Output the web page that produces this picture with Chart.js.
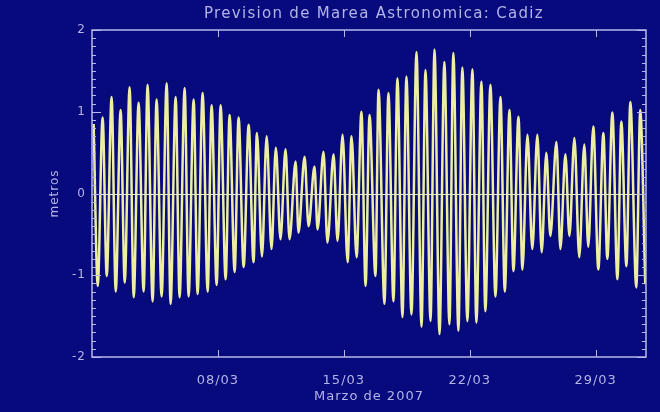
<!DOCTYPE html>
<html>
<head>
<meta charset="utf-8">
<script src="https://cdn.jsdelivr.net/npm/chart.js@4.4.1/dist/chart.umd.min.js"></script>
<style>
html,body{margin:0;padding:0;background:#070a7d;}
#wrap{width:660px;height:412px;}
</style>
</head>
<body>
<div id="wrap"><canvas id="c" width="660" height="412"></canvas></div>
<script>
// ---- Text ----
const titleText = "Prevision de Marea Astronomica: Cadiz";
const yTitle = "metros";
const xTitle = "Marzo de 2007";

// ---- Axis ticks (days since 1 March 00:00) ----
const xTickDays = [7, 14, 21, 28];
const xTickLabels = ["08/03", "15/03", "22/03", "29/03"];
const yTickValues = [-2, -1, 0, 1, 2];

// ---- High waters: time (days since 1 March 00:00) and level (m) ----
const highTimes = [0.09,0.59,1.09,1.59,2.09,2.59,3.09,3.59,4.15,4.65,
                   5.15,5.65,6.15,6.65,7.15,7.65,8.15,8.71,9.17,9.71,
                   10.22,10.76,11.32,11.82,12.37,12.87,13.43,13.93,14.43,14.98,
                   15.43,15.93,16.48,16.98,17.48,18.04,18.54,19.04,19.59,20.09,
                   20.59,21.15,21.65,22.15,22.71,23.21,23.71,24.21,24.76,25.26,
                   25.82,26.32,26.82,27.37,27.87,28.43,28.93,29.43,29.93,30.48];
const highs = [0.85,0.93,1.18,1.02,1.30,1.11,1.33,1.15,1.35,1.18,
               1.29,1.15,1.23,1.08,1.08,0.96,0.93,0.84,0.74,0.70,
               0.56,0.54,0.39,0.45,0.33,0.51,0.48,0.72,0.70,1.00,
               0.96,1.27,1.23,1.41,1.43,1.73,1.51,1.76,1.61,1.72,
               1.54,1.52,1.37,1.33,1.18,1.02,0.94,0.72,0.72,0.50,
               0.63,0.48,0.68,0.60,0.82,0.74,0.99,0.88,1.12,1.02];

// ---- Low waters ----
const lowTimes = [0.32,0.82,1.32,1.82,2.32,2.87,3.37,3.87,4.37,4.87,
                  5.37,5.87,6.43,6.93,7.43,7.93,8.43,8.98,9.45,9.98,
                  10.48,10.98,11.48,12.04,12.54,13.09,13.65,14.21,14.71,15.21,
                  15.76,16.26,16.76,17.26,17.76,18.32,18.82,19.32,19.87,20.37,
                  20.87,21.37,21.87,22.43,22.95,23.43,23.93,24.48,25.00,25.48,
                  26.04,26.54,27.09,27.59,28.15,28.65,29.21,29.71,30.26,30.76];
const lows = [-1.13,-1.01,-1.20,-1.09,-1.27,-1.20,-1.32,-1.26,-1.35,-1.27,
              -1.26,-1.23,-1.20,-1.12,-1.05,-0.96,-0.90,-0.84,-0.77,-0.68,
              -0.56,-0.56,-0.48,-0.40,-0.44,-0.60,-0.58,-0.84,-0.78,-1.13,
              -1.01,-1.35,-1.32,-1.51,-1.48,-1.63,-1.56,-1.72,-1.60,-1.68,
              -1.56,-1.58,-1.44,-1.26,-1.20,-0.95,-0.93,-0.68,-0.72,-0.52,
              -0.68,-0.52,-0.78,-0.65,-0.93,-0.80,-1.05,-0.89,-1.15,-1.11];

const points = highTimes.map((t, i) => ({x: t, y: highs[i]}))
  .concat(lowTimes.map((t, i) => ({x: t, y: lows[i]})))
  .sort((a, b) => a.x - b.x);

const BG = '#070a7d';
const TXT = '#b4b4e6';
const FRAME = '#b8b8ec';

const bgPlugin = {
  id: 'bg',
  beforeDraw(chart) {
    const ctx = chart.ctx;
    ctx.fillStyle = BG;
    ctx.fillRect(0, 0, chart.width, chart.height);
    ctx.letterSpacing = '1px';
  }
};

const framePlugin = {
  id: 'frame',
  afterDatasetsDraw(chart) {
    const {ctx, chartArea: a, scales: {x, y}} = chart;
    ctx.save();
    // zero line
    ctx.strokeStyle = '#e8e8cc';
    ctx.lineWidth = 1;
    const y0 = Math.round(y.getPixelForValue(0)) + 0.5;
    ctx.beginPath(); ctx.moveTo(a.left, y0); ctx.lineTo(a.right, y0); ctx.stroke();
    // frame
    ctx.strokeStyle = FRAME;
    ctx.lineWidth = 1.5;
    ctx.strokeRect(a.left, a.top, a.right - a.left, a.bottom - a.top);
    // y ticks (major 1 m, minor 0.1 m), inward on both sides
    ctx.lineWidth = 1;
    ctx.beginPath();
    for (let k = -20; k <= 20; k++) {
      const py = Math.round(y.getPixelForValue(k / 10)) + 0.5;
      const len = (k % 10 === 0) ? 9 : 4;
      ctx.moveTo(a.left, py); ctx.lineTo(a.left + len, py);
      ctx.moveTo(a.right, py); ctx.lineTo(a.right - len, py);
    }
    // x ticks inward top and bottom
    xTickDays.forEach(d => {
      const px = Math.round(x.getPixelForValue(d)) + 0.5;
      ctx.moveTo(px, a.top); ctx.lineTo(px, a.top + 7);
      ctx.moveTo(px, a.bottom); ctx.lineTo(px, a.bottom - 7);
    });
    ctx.stroke();
    ctx.restore();
  },
  afterDraw(chart) {
    const {ctx, chartArea: a} = chart;
    ctx.save();
    ctx.font = '15px "DejaVu Sans"';
    ctx.letterSpacing = '1.3px';
    ctx.fillStyle = TXT;
    ctx.textAlign = 'center';
    ctx.textBaseline = 'middle';
    ctx.fillText(titleText, (a.left + a.right) / 2 + 5, 14);
    ctx.restore();
  }
};

new Chart(document.getElementById('c'), {
  type: 'line',
  data: {
    datasets: [{
      data: points,
      borderColor: '#eeeea2',
      borderWidth: 2.5,
      pointRadius: 0,
      fill: false,
      cubicInterpolationMode: 'monotone'
    }]
  },
  options: {
    responsive: false,
    animation: false,
    devicePixelRatio: 1,
    layout: {padding: {left: 0, right: 14, top: 30, bottom: 0}},
    plugins: {legend: {display: false}, tooltip: {enabled: false}, title: {display: false}},
    scales: {
      x: {
        type: 'linear',
        min: 0, max: 30.8,
        afterBuildTicks: s => { s.ticks = xTickDays.map(v => ({value: v})); },
        afterFit: s => { s.height = 55; },
        grid: {display: false, drawTicks: false},
        border: {display: false},
        ticks: {
          autoSkip: false, maxRotation: 0,
          color: TXT, padding: 16,
          font: {family: 'DejaVu Sans', size: 13},
          callback: (v, i) => xTickLabels[i]
        },
        title: {
          display: true, text: xTitle, color: TXT,
          font: {family: 'DejaVu Sans', size: 13},
          padding: {top: 0, bottom: 8}
        }
      },
      y: {
        min: -2, max: 2,
        afterBuildTicks: s => { s.ticks = yTickValues.map(v => ({value: v})); },
        afterFit: s => { s.width = 92; },
        grid: {display: false, drawTicks: false},
        border: {display: false},
        ticks: {
          color: TXT, padding: 6,
          font: {family: 'DejaVu Sans', size: 12},
          callback: v => String(v)
        },
        title: {
          display: true, text: yTitle, color: TXT,
          font: {family: 'DejaVu Sans', size: 12},
          padding: {top: 48, bottom: 0}
        }
      }
    }
  },
  plugins: [bgPlugin, framePlugin]
});
</script>
</body>
</html>
